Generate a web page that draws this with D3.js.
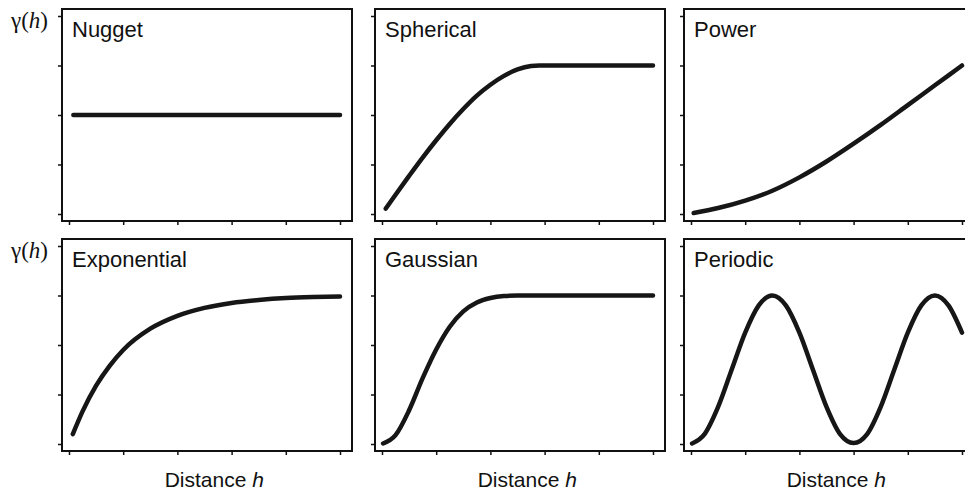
<!DOCTYPE html>
<html>
<head>
<meta charset="utf-8">
<script src="https://cdn.jsdelivr.net/npm/d3@7"></script>
<style>
  body { margin: 0; background: #fff; }
</style>
</head>
<body>
<div id="canvas"></div>
<script>
// tick positions on both axes (no labels shown)
var xTicks = [0, 1, 2, 3, 4, 5];
var yTicks = [0, 1, 2, 3, 4];

var titles = ['Nugget', 'Spherical', 'Power', 'Exponential', 'Gaussian', 'Periodic'];

// values, distance h vs gamma(h)
var nuggetH = [0.08, 5];
var nuggetV = [2, 2];

var sphericalH = [0.07, 0.25, 0.5, 0.75, 1.0, 1.25, 1.5, 1.75, 2.0, 2.25, 2.5, 2.75, 2.9, 5];
var sphericalV = [0.11, 0.39, 0.77, 1.14, 1.49, 1.82, 2.12, 2.39, 2.61, 2.79, 2.92, 2.99, 3.0, 3.0];

var powerH = [0.05, 0.5, 1.0, 1.5, 2.0, 2.5, 3.0, 3.5, 4.0, 4.5, 5.0];
var powerV = [0.02, 0.12, 0.27, 0.47, 0.74, 1.06, 1.42, 1.80, 2.20, 2.60, 3.0];

var exponentialH = [0.07, 0.25, 0.5, 0.75, 1.0, 1.5, 2.0, 2.5, 3.0, 3.5, 4.0, 4.5, 5.0];
var exponentialV = [0.2, 0.66, 1.18, 1.58, 1.9, 2.33, 2.59, 2.75, 2.85, 2.91, 2.95, 2.97, 2.98];

var gaussianH = [0.02, 0.25, 0.5, 0.75, 1.0, 1.25, 1.5, 1.75, 2.0, 2.25, 2.5, 5.0];
var gaussianV = [0.01, 0.18, 0.68, 1.33, 1.91, 2.37, 2.68, 2.86, 2.95, 2.99, 3.0, 3.0];

var periodicH = [0.02, 0.25, 0.5, 0.75, 1.0, 1.25, 1.5, 1.75, 2.0, 2.25, 2.5, 2.75, 3.0,
                 3.25, 3.5, 3.75, 4.0, 4.25, 4.5, 4.75, 5.0];
var periodicV = [0.01, 0.2, 0.75, 1.5, 2.25, 2.8, 3.0, 2.8, 2.25, 1.5, 0.75, 0.2, 0.02,
                 0.2, 0.75, 1.5, 2.25, 2.8, 3.0, 2.8, 2.25];

var seriesH = [nuggetH, sphericalH, powerH, exponentialH, gaussianH, periodicH];
var seriesV = [nuggetV, sphericalV, powerV, exponentialV, gaussianV, periodicV];

var canvas = d3.select('#canvas').append('svg')
    .attr('width', 965)
    .attr('height', 494);

var colLeft = [62, 375, 684];
var rowTop = [9, 239];
var panelW = 290;
var panelH = 212;

var x = d3.scaleLinear().domain([0, 5]).range([7, 278]);
var y = d3.scaleLinear().domain([0, 4]).range([205, 7]);

var line = d3.line()
    .x(function(d) { return x(d[0]); })
    .y(function(d) { return y(d[1]); })
    .curve(d3.curveMonotoneX);

titles.forEach(function(title, i) {
    var col = i % 3;
    var row = Math.floor(i / 3);

    var group = canvas.append('g')
        .attr('transform', 'translate(' + colLeft[col] + ',' + rowTop[row] + ')');

    group.append('rect')
        .attr('width', panelW)
        .attr('height', panelH)
        .attr('fill', 'none')
        .attr('stroke', '#111')
        .attr('stroke-width', 2);

    var yAxis = group.append('g')
        .call(d3.axisLeft(y).tickValues(yTicks).tickSize(4).tickFormat(''));
    var xAxis = group.append('g')
        .attr('transform', 'translate(0,' + panelH + ')')
        .call(d3.axisBottom(x).tickValues(xTicks).tickSize(4).tickFormat(''));
    [yAxis, xAxis].forEach(function(a) {
        a.select('.domain').remove();
        a.selectAll('line').attr('stroke', '#111').attr('stroke-width', 1.5);
    });

    var pts = seriesH[i].map(function(h, k) { return [h, seriesV[i][k]]; });

    group.append('path')
        .attr('d', line(pts))
        .attr('fill', 'none')
        .attr('stroke', '#161616')
        .attr('stroke-width', 4.5)
        .attr('stroke-linecap', 'round');

    group.append('text')
        .attr('x', 10)
        .attr('y', 28)
        .attr('font-family', 'Liberation Sans, Arial, sans-serif')
        .attr('font-size', '22px')
        .attr('fill', '#111')
        .text(title);

    if (col === 0) {
        var yl = canvas.append('text')
            .attr('x', 11)
            .attr('y', rowTop[row] + 19)
            .attr('font-family', 'Liberation Serif, Times New Roman, serif')
            .attr('font-size', '23px')
            .attr('fill', '#111');
        yl.append('tspan').text('\u03b3(');
        yl.append('tspan').attr('font-style', 'italic').text('h');
        yl.append('tspan').text(')');
    }

    if (row === 1) {
        var xl = group.append('text')
            .attr('x', x(2.68))
            .attr('y', panelH + 36)
            .attr('text-anchor', 'middle')
            .attr('font-family', 'Liberation Sans, Arial, sans-serif')
            .attr('font-size', '21px')
            .attr('fill', '#111');
        xl.append('tspan').text('Distance ');
        xl.append('tspan').attr('font-style', 'italic').text('h');
    }
});
</script>
</body>
</html>
